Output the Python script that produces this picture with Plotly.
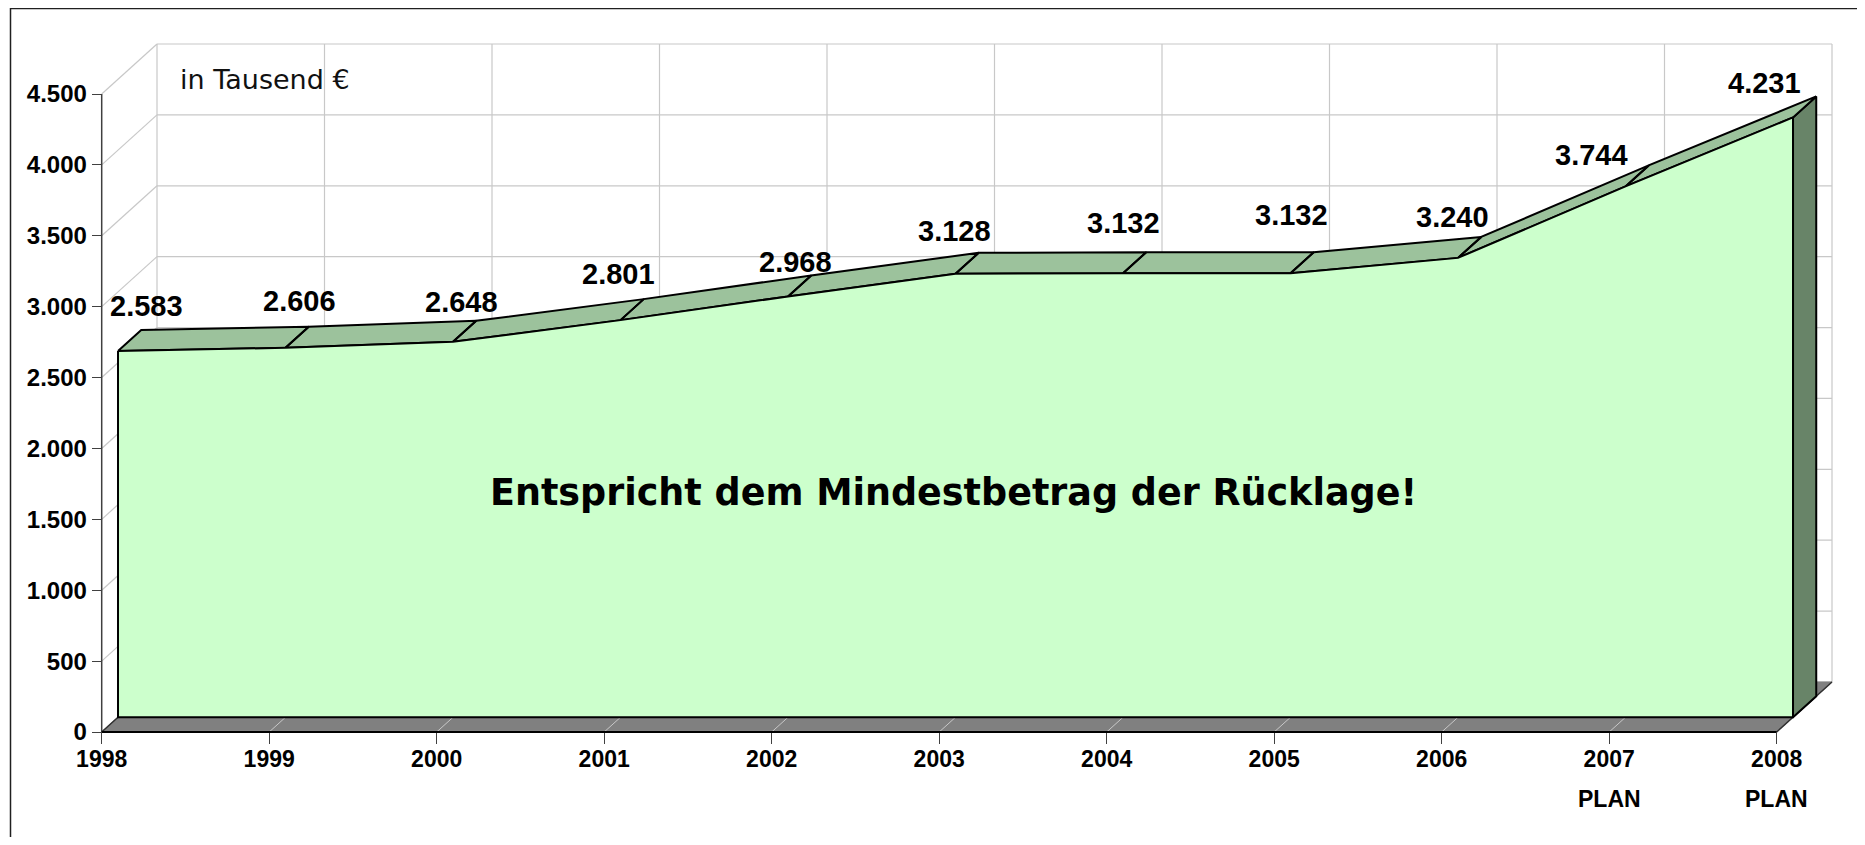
import plotly.graph_objects as go

# ---------------- data ----------------
years = ["1998", "1999", "2000", "2001", "2002", "2003", "2004", "2005", "2006", "2007", "2008"]
year_tick_text = ["1998", "1999", "2000", "2001", "2002", "2003", "2004", "2005", "2006",
                  "2007", "2008"]
plan_flags = [False, False, False, False, False, False, False, False, False, True, True]
plan_text = "PLAN"
values = [2583, 2606, 2648, 2801, 2968, 3128, 3132, 3132, 3240, 3744, 4231]
value_labels = ["2.583", "2.606", "2.648", "2.801", "2.968", "3.128", "3.132", "3.132",
                "3.240", "3.744", "4.231"]
y_tick_vals = [0, 500, 1000, 1500, 2000, 2500, 3000, 3500, 4000, 4500]
y_tick_text = ["0", "500", "1.000", "1.500", "2.000", "2.500", "3.000", "3.500", "4.000", "4.500"]
unit_text = "in Tausend €"
note_text = "Entspricht dem Mindestbetrag der Rücklage!"

# ---------------- layout geometry (screen pixels) ----------------
OFF = 8                                   # default page body margin
W, H = 1865 - 2 * OFF, 845 - 2 * OFF      # figure size so the page fits the window
X0_PX, X_STEP_PX = 101.7 - OFF, 167.5    # category 0 position, px per category
Y0_PX, Y_MAX_PX = 732.0 - OFF, 94.0 - OFF
Y_TOP = 4500
UNITS_PER_PX = Y_TOP / (Y0_PX - Y_MAX_PX)
X_LO = -X0_PX / X_STEP_PX
X_HI = (W - X0_PX) / X_STEP_PX
Y_LO = -(H - Y0_PX) * UNITS_PER_PX
Y_HI = Y0_PX * UNITS_PER_PX

# oblique depth vector (full depth), in data units
DX = 55.3 / X_STEP_PX
DY = 50.0 * UNITS_PER_PX
D_FRONT, D_BACK = 0.295, 0.715           # series slab position in depth

# label nudges in pixels (layout only)
label_dx = [45, 30, 25, 14, 24, 15, 17, 17, 11, -18, -12]
label_dy = [60, 62, 55, 61, 49, 58, 65, 73, 56, 46, 49]

n = len(values)
xs = list(range(n))
x_last = xs[-1]


def proj(x, y, d):
    return x + d * DX, y + d * DY


def poly_trace(pts_list, fill, line_color, line_width):
    px, py = [], []
    for pts in pts_list:
        for (a, b) in pts:
            px.append(a)
            py.append(b)
        px.append(pts[0][0])
        py.append(pts[0][1])
        px.append(None)
        py.append(None)
    return go.Scatter(x=px, y=py, mode="lines", fill="toself" if fill else None,
                      fillcolor=fill, line=dict(color=line_color, width=line_width),
                      hoverinfo="skip", showlegend=False)


def seg_trace(segs, color, width):
    px, py = [], []
    for (p, q) in segs:
        px += [p[0], q[0], None]
        py += [p[1], q[1], None]
    return go.Scatter(x=px, y=py, mode="lines", line=dict(color=color, width=width),
                      hoverinfo="skip", showlegend=False)


fig = go.Figure()
GRID = "#c8c8c8"

# back wall gridlines
back_segs = []
for v in y_tick_vals:
    back_segs.append((proj(xs[0], v, 1), proj(x_last, v, 1)))
for x in xs:
    back_segs.append((proj(x, 0, 1), proj(x, Y_TOP, 1)))
# side wall gridlines
for v in y_tick_vals:
    back_segs.append((proj(xs[0], v, 0), proj(xs[0], v, 1)))
fig.add_trace(seg_trace(back_segs, GRID, 1.2))

# floor
floor = [proj(xs[0], 0, 0), proj(x_last, 0, 0), proj(x_last, 0, 1), proj(xs[0], 0, 1)]
fig.add_trace(poly_trace([floor], "#808080", "#808080", 1))
floor_lines = [(proj(x, 0, 0), proj(x, 0, 1)) for x in xs[1:-1]]
fig.add_trace(seg_trace(floor_lines, "#c8c8c8", 1))
fig.add_trace(seg_trace([(proj(x_last, 0, 0), proj(x_last, 0, 1)),
                         (proj(xs[0], 0, 0), proj(xs[0], 0, 1))], "#303030", 1.5))

# series: right side face
side = [proj(x_last, values[-1], D_FRONT), proj(x_last, values[-1], D_BACK),
        proj(x_last, 0, D_BACK), proj(x_last, 0, D_FRONT)]
fig.add_trace(poly_trace([side], "#688468", "black", 2))

# series: top faces
tops = []
for i in range(n - 1):
    tops.append([proj(xs[i], values[i], D_FRONT), proj(xs[i + 1], values[i + 1], D_FRONT),
                 proj(xs[i + 1], values[i + 1], D_BACK), proj(xs[i], values[i], D_BACK)])
fig.add_trace(poly_trace(tops, "#9cc29c", "black", 2))

# series: front face
front = [proj(x, v, D_FRONT) for x, v in zip(xs, values)]
front += [proj(x_last, 0, D_FRONT), proj(xs[0], 0, D_FRONT)]
fig.add_trace(poly_trace([front], "#ccffcc", "black", 2))

# front axis lines
fig.add_trace(seg_trace([((xs[0], 0), (xs[0], Y_TOP))], "#404040", 1.5))
fig.add_trace(seg_trace([((xs[0], 0), (x_last, 0))], "black", 2))

# data labels
for x, v, lab, dx, dy in zip(xs, values, value_labels, label_dx, label_dy):
    fig.add_annotation(x=x, y=v, text=lab, showarrow=False, xanchor="center", yanchor="middle",
                       xshift=dx, yshift=dy,
                       font=dict(family="Liberation Sans, Arial", size=29, color="black",
                                 weight="bold"))

tick_font = dict(family="Liberation Sans, Arial", size=23, color="black", weight="bold")

# second line of the category labels ("PLAN")
for x, flag in zip(xs, plan_flags):
    if flag:
        fig.add_annotation(x=x, xref="x", yref="paper", y=1 - (799 - OFF) / H, text=plan_text,
                           showarrow=False, xanchor="center", yanchor="middle", font=tick_font)

fig.add_annotation(xref="paper", yref="paper", x=(181.7 - OFF - 4) / W, y=1 - (80 - OFF) / H,
                   text=unit_text, showarrow=False, xanchor="left", yanchor="middle",
                   font=dict(family="DejaVu Sans", size=27, color="#111111"))
fig.add_annotation(xref="paper", yref="paper", x=(953.8 - OFF) / W, y=1 - (492 - OFF) / H,
                   text=note_text, showarrow=False, xanchor="center", yanchor="middle",
                   font=dict(family="DejaVu Sans", size=36.5, color="black", weight="bold"))

# outer frame (extends beyond the right and bottom edges)
fig.add_shape(type="rect", xref="paper", yref="paper", x0=(10.5 - OFF) / W, x1=1.02,
              y0=-0.02, y1=1 - (8.5 - OFF) / H, line=dict(color="#202020", width=1.5))

fig.update_layout(
    width=W, height=H, template="none",
    margin=dict(l=0, r=0, t=0, b=0, pad=0),
    paper_bgcolor="white", plot_bgcolor="white",
    showlegend=False,
    xaxis=dict(range=[X_LO, X_HI], domain=[0, 1], anchor="free", position=(H - Y0_PX) / H,
               tickvals=xs, ticktext=year_tick_text, ticks="outside", ticklen=11,
               tickcolor="#404040", tickwidth=1.2, showgrid=False, zeroline=False,
               showline=False, tickfont=tick_font, automargin=False, fixedrange=True,
               ticklabelstandoff=-5),
    yaxis=dict(range=[Y_LO, Y_HI], domain=[0, 1], anchor="free", position=X0_PX / W,
               tickvals=y_tick_vals, ticktext=y_tick_text, ticks="outside", ticklen=10,
               tickcolor="#404040", tickwidth=1.2, showgrid=False, zeroline=False,
               showline=False, tickfont=dict(tick_font, size=24), automargin=False,
               fixedrange=True),
)

fig.write_html("out.html")
